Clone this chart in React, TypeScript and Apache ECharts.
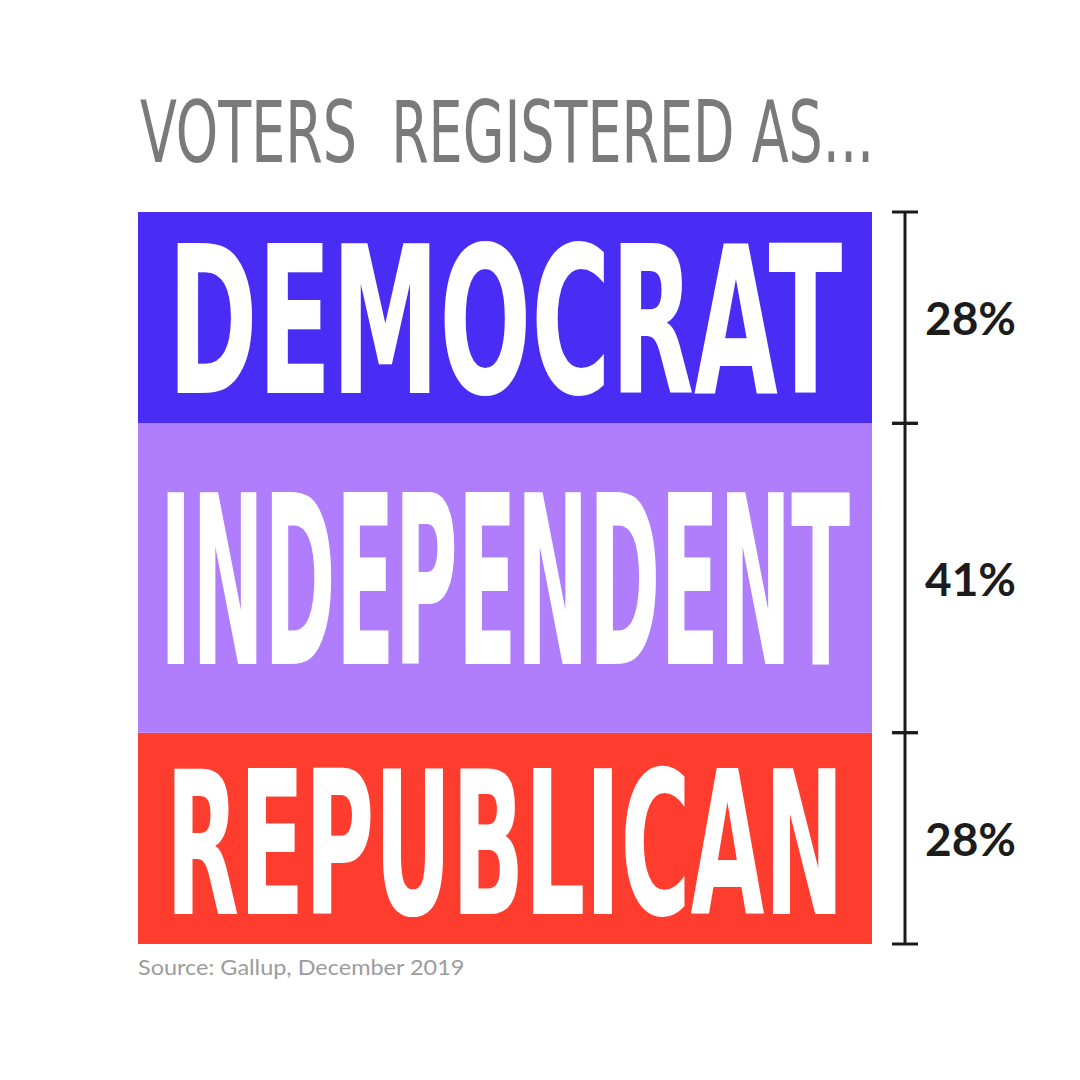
import React, { useEffect, useRef } from "react";
import * as echarts from "echarts";

// bottom -> top order of the stack
const categories = ["REPUBLICAN", "INDEPENDENT", "DEMOCRAT"];
const values = [28, 41, 28];
const valueLabels = ["28%", "41%", "28%"];
const titleText = "VOTERS  REGISTERED AS...";
const sourceText = "Source: Gallup, December 2019";

const colors = ["#FF3D2E", "#B07EFC", "#4A2DF5"];
const labelFontSizes = [200, 236, 205];
const labelWidthFrac = [0.924, 0.94, 0.92];
const labelYShift = [6, 4, 5];
const BIG_FONT = '"DejaVu Sans Condensed", "DejaVu Sans", sans-serif';

let measureCtx: CanvasRenderingContext2D | null = null;
function measure(text: string, font: string): number {
  if (!measureCtx) measureCtx = document.createElement("canvas").getContext("2d");
  measureCtx!.font = font;
  return measureCtx!.measureText(text).width;
}

export default function App() {
  const ref = useRef<HTMLDivElement>(null);

  useEffect(() => {
    if (!ref.current) return;
    const chart = echarts.init(ref.current, undefined, { renderer: "svg" });

    const total = values.reduce((a, b) => a + b, 0);
    const segs: number[][] = [];
    let acc = 0;
    values.forEach((v, i) => {
      segs.push([0, acc, acc + v, i]);
      acc += v;
    });

    const titleFont = `normal 86px ${BIG_FONT}`;
    const titleScale = 734 / measure(titleText, titleFont);
    const sourceFont = `normal 22px Lato, "DejaVu Sans", sans-serif`;
    const sourceScale = 327 / measure(sourceText, sourceFont);

    const barSeries = categories.map((c, i) => ({
      type: "bar",
      name: c,
      stack: "all",
      data: [values[i]],
      barWidth: "100%",
      itemStyle: { color: colors[i] },
      silent: true,
    }));

    chart.setOption({
      animation: false,
      backgroundColor: "#ffffff",
      grid: { left: 138, top: 212, width: 734, height: 732 },
      xAxis: { type: "category", data: ["share"], show: false },
      yAxis: { type: "value", min: 0, max: total, show: false },
      graphic: [
        {
          type: "text",
          x: 140,
          y: 132,
          scaleX: titleScale,
          style: {
            text: titleText,
            font: titleFont,
            fill: "#7a7a7a",
            align: "left",
            verticalAlign: "middle",
          },
        },
        {
          type: "text",
          x: 138,
          y: 967,
          scaleX: sourceScale,
          style: {
            text: sourceText,
            font: sourceFont,
            fill: "#9c9c9c",
            align: "left",
            verticalAlign: "middle",
          },
        },
      ],
      series: [
        ...barSeries,
        {
          type: "custom",
          data: segs,
          encode: { x: 0, y: [1, 2] },
          z: 10,
          silent: true,
          clip: false,
          renderItem: (params: any, api: any) => {
            const i = api.value(3);
            const top = api.coord([api.value(0), api.value(2)]);
            const bot = api.coord([api.value(0), api.value(1)]);
            const bw = api.size([1, 0])[0];
            const cx = top[0];
            const right = cx + bw / 2;
            const midY = (top[1] + bot[1]) / 2;
            const font = `bold ${labelFontSizes[i]}px ${BIG_FONT}`;
            const sx = (bw * labelWidthFrac[i]) / measure(categories[i], font);
            const bx = right + 33;
            const stroke = { stroke: "#1a1a1a", lineWidth: 3 };
            return {
              type: "group",
              children: [
                {
                  type: "text",
                  x: cx,
                  y: midY + labelYShift[i],
                  scaleX: sx,
                  style: {
                    text: categories[i],
                    font,
                    fill: "#ffffff",
                    align: "center",
                    verticalAlign: "middle",
                  },
                },
                {
                  type: "line",
                  shape: { x1: bx, y1: top[1], x2: bx, y2: bot[1] },
                  style: stroke,
                },
                {
                  type: "line",
                  shape: { x1: bx - 13, y1: top[1], x2: bx + 13, y2: top[1] },
                  style: stroke,
                },
                {
                  type: "line",
                  shape: { x1: bx - 13, y1: bot[1], x2: bx + 13, y2: bot[1] },
                  style: stroke,
                },
                {
                  type: "text",
                  x: bx + 20,
                  y: midY,
                  style: {
                    text: valueLabels[i],
                    font: `bold 46px Lato, "Noto Sans", sans-serif`,
                    fill: "#1c1c1c",
                    align: "left",
                    verticalAlign: "middle",
                  },
                },
              ],
            };
          },
        },
      ],
    });

    return () => chart.dispose();
  }, []);

  return (
    <div
      ref={ref}
      style={{ position: "fixed", left: 0, top: 0, width: 1080, height: 1080 }}
    />
  );
}
